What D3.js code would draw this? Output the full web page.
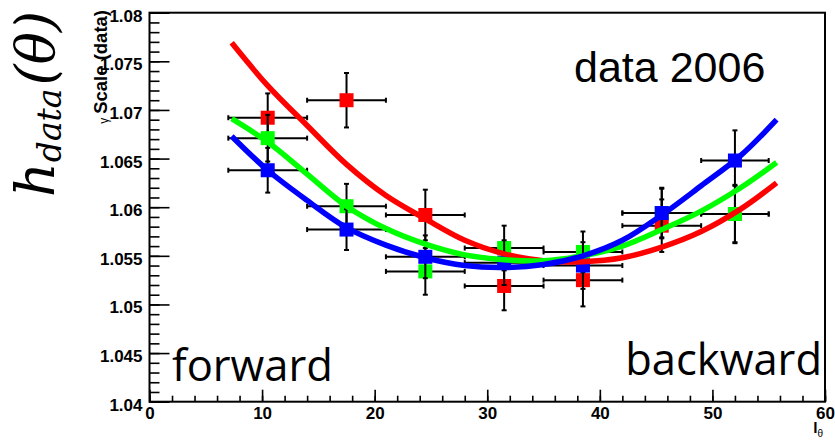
<!DOCTYPE html>
<html>
<head>
<meta charset="utf-8">
<script src="https://cdn.jsdelivr.net/npm/d3@7/dist/d3.min.js"></script>
<style>
  html, body { margin: 0; padding: 0; background: #fff; }
  svg { display: block; }
</style>
</head>
<body>
<svg id="chart" width="835" height="443"></svg>
<script>
// Bin centres and edges in l_theta
const binCenters = [10.5, 17.5, 24.5, 31.5, 38.5, 45.5, 52];
const binLow     = [7, 14, 21, 28, 35, 42, 49];
const binHigh    = [14, 21, 28, 35, 42, 49, 55];

// Measured gamma scale per bin, with errors
const redValues   = [1.0692, 1.0710, 1.0592, 1.0519, 1.0525, 1.0581, 1.0593];
const redErrors   = [0.0025, 0.0028, 0.0026, 0.0025, 0.0027, 0.0027, 0.0029];
const greenValues = [1.0671, 1.0601, 1.0534, 1.0558, 1.0554, 1.0594, 1.0593];
const greenErrors = [0.0024, 0.0023, 0.0024, 0.0023, 0.0021, 0.0025, 0.0030];
const blueValues  = [1.0638, 1.0577, 1.0549, 1.0543, 1.0540, 1.0594, 1.0648];
const blueErrors  = [0.0023, 0.0021, 0.0022, 0.0023, 0.0024, 0.0026, 0.0031];

// Fitted curves, sampled along l_theta
const fitX     = [7.3, 10.5, 14, 17.5, 21, 24.5, 28, 31.5, 35, 38.5, 42, 45.5, 49, 52.5, 55.7];
const redFit   = [1.0769, 1.0725, 1.0684, 1.0644, 1.0612, 1.0588, 1.0566, 1.0552, 1.0545, 1.0544, 1.0548, 1.0559, 1.0575, 1.0598, 1.0625];
const greenFit = [1.0691, 1.0667, 1.0634, 1.0601, 1.0578, 1.0562, 1.0551, 1.0546, 1.0545, 1.0550, 1.0560, 1.0577, 1.0596, 1.0620, 1.0646];
const blueFit  = [1.0673, 1.0638, 1.0607, 1.0579, 1.0561, 1.0548, 1.0540, 1.0538, 1.0541, 1.0550, 1.0566, 1.0592, 1.0622, 1.0653, 1.0690];

// Axis ticks
const xMajorTicks = [0, 10, 20, 30, 40, 50, 60];
const xMinorTicks = d3.range(0, 61, 2);
const yMajorTicks = [1.04, 1.045, 1.05, 1.055, 1.06, 1.065, 1.07, 1.075, 1.08];
const yMinorTicks = d3.range(1040, 1081, 1).map(v => v / 1000);

const series = [
  { color: "#ff0000", values: redValues,   errors: redErrors,   fit: redFit },
  { color: "#00ff00", values: greenValues, errors: greenErrors, fit: greenFit },
  { color: "#0000ff", values: blueValues,  errors: blueErrors,  fit: blueFit }
];

const svg = d3.select("#chart");
const frame = { left: 149.5, right: 825, top: 12.7, bottom: 401.7 };

const x = d3.scaleLinear().domain([0, 60]).range([frame.left, frame.right]);
const y = d3.scaleLinear().domain([1.04, 1.08]).range([frame.bottom, frame.top]);

const tickFont = "'Liberation Sans', Arial, sans-serif";

// y axis: ticks point into the frame
const yMinor = svg.append("g").attr("transform", `translate(${frame.left},0)`)
  .call(d3.axisLeft(y).tickValues(yMinorTicks).tickSize(-10).tickFormat(""));
const yMajor = svg.append("g").attr("transform", `translate(${frame.left},0)`)
  .call(d3.axisLeft(y).tickValues(yMajorTicks).tickSize(-20).tickPadding(7)
    .tickFormat(d => String(+d.toFixed(3))));

// x axis
const xMinor = svg.append("g").attr("transform", `translate(0,${frame.bottom})`)
  .call(d3.axisBottom(x).tickValues(xMinorTicks).tickSize(-6).tickFormat(""));
const xMajor = svg.append("g").attr("transform", `translate(0,${frame.bottom})`)
  .call(d3.axisBottom(x).tickValues(xMajorTicks).tickSize(-12).tickPadding(5)
    .tickFormat(d3.format("d")));

[yMinor, yMajor, xMinor, xMajor].forEach(g => {
  g.select(".domain").remove();
  g.selectAll(".tick line").attr("stroke", "#000").attr("stroke-width", 1.6);
  g.selectAll(".tick text")
    .attr("fill", "#000")
    .style("font-family", tickFont)
    .style("font-weight", "bold")
    .style("font-size", "17px");
});
yMajor.selectAll(".tick text").attr("dy", "0.5em");

// frame
svg.append("rect")
  .attr("x", frame.left).attr("y", frame.top)
  .attr("width", frame.right - frame.left).attr("height", frame.bottom - frame.top)
  .attr("fill", "none").attr("stroke", "#000").attr("stroke-width", 2);

// points with error bars
const cap = 2.5;
const markerSize = 14;
const pts = svg.append("g");
series.forEach(s => {
  const g = pts.append("g");
  binCenters.forEach((c, i) => {
    const cx = x(c), cy = y(s.values[i]);
    const yTop = y(s.values[i] + s.errors[i]), yBot = y(s.values[i] - s.errors[i]);
    const xl = x(binLow[i]), xh = x(binHigh[i]);
    const eb = g.append("g").attr("stroke", "#000").attr("stroke-width", 2);
    eb.append("line").attr("x1", xl).attr("x2", xh).attr("y1", cy).attr("y2", cy);
    eb.append("line").attr("x1", cx).attr("x2", cx).attr("y1", yTop).attr("y2", yBot);
    eb.append("line").attr("x1", xl).attr("x2", xl).attr("y1", cy - cap).attr("y2", cy + cap);
    eb.append("line").attr("x1", xh).attr("x2", xh).attr("y1", cy - cap).attr("y2", cy + cap);
    eb.append("line").attr("x1", cx - cap).attr("x2", cx + cap).attr("y1", yTop).attr("y2", yTop);
    eb.append("line").attr("x1", cx - cap).attr("x2", cx + cap).attr("y1", yBot).attr("y2", yBot);
    g.append("rect")
      .attr("x", cx - markerSize / 2).attr("y", cy - markerSize / 2)
      .attr("width", markerSize).attr("height", markerSize)
      .attr("fill", s.color);
  });
});

// fitted curves
const line = d3.line()
  .x(d => x(d[0]))
  .y(d => y(d[1]))
  .curve(d3.curveCatmullRom.alpha(0.5));
series.forEach(s => {
  svg.append("path")
    .datum(fitX.map((v, i) => [v, s.fit[i]]))
    .attr("d", line)
    .attr("fill", "none")
    .attr("stroke", s.color)
    .attr("stroke-width", 5.5);
});

// annotations
svg.append("text")
  .attr("x", 574).attr("y", 82)
  .style("font-family", "'Liberation Sans', Arial, sans-serif")
  .style("font-size", "43px")
  .text("data 2006");

svg.append("text")
  .attr("x", 172).attr("y", 381)
  .style("font-family", "'Open Sans', sans-serif")
  .style("font-size", "43.5px")
  .text("forward");

svg.append("text")
  .attr("x", 822).attr("y", 375)
  .attr("text-anchor", "end")
  .style("font-family", "'Open Sans', sans-serif")
  .style("font-size", "43.5px")
  .text("backward");

// y axis title
const yTitle = svg.append("text")
  .attr("transform", `translate(107,10) rotate(-90)`)
  .attr("text-anchor", "end")
  .style("font-family", tickFont);
yTitle.append("tspan").style("font-size", "12px").attr("dy", 1).text("γ");
yTitle.append("tspan").style("font-size", "18.5px").style("font-weight", "bold")
  .attr("dy", -1).attr("dx", 4).text("Scale (data)");

// large symbol label on the left
const hLabel = svg.append("text")
  .attr("transform", `translate(54,197) rotate(-90)`)
  .style("font-family", "'DejaVu Serif', serif")
  .style("font-style", "italic");
hLabel.append("tspan").style("font-size", "54px").text("h");
hLabel.append("tspan").style("font-size", "33px").attr("dy", 7).text("data");
hLabel.append("tspan").style("font-size", "54px").attr("dy", -7).attr("dx", 3).text("(θ)");

// x axis title
const xTitle = svg.append("text")
  .attr("x", 823).attr("y", 433)
  .attr("text-anchor", "end")
  .style("font-family", tickFont);
xTitle.append("tspan").style("font-size", "15.5px").style("font-weight", "bold").text("l");
xTitle.append("tspan").style("font-size", "10px").attr("dy", 4).text("θ");
</script>
</body>
</html>
